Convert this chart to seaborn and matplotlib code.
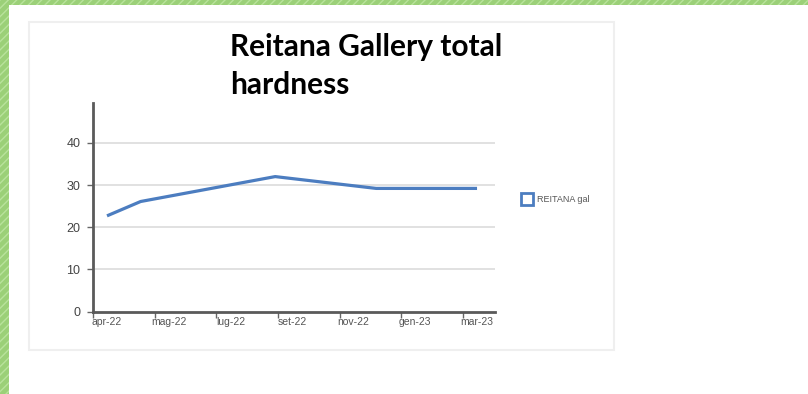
import matplotlib
matplotlib.use("Agg")
import matplotlib.pyplot as plt
from matplotlib.patches import Rectangle
from matplotlib.lines import Line2D
import seaborn as sns
import pandas as pd
import numpy as np

# ---- data ----
months = [0, 1, 5, 8, 11]          # months since apr-22
hardness = [22.7, 26.1, 32.0, 29.2, 29.2]
tick_labels = ["apr-22", "mag-22", "lug-22", "set-22", "nov-22", "gen-23", "mar-23"]
y_ticks = [0, 10, 20, 30, 40]
series_name = "REITANA gal"
title = "Reitana Gallery total\nhardness"

df = pd.DataFrame({"month": months, "hardness": hardness})

sns.set_style("white")
plt.rcParams["font.family"] = ["Liberation Sans", "DejaVu Sans"]

W, H = 808, 394
fig = plt.figure(figsize=(W / 100, H / 100), dpi=100)
fig.patch.set_facecolor("white")

def fx(px):
    return px / W

def fy(py):
    return 1 - py / H

# green textured border (left and top)
for (x0, y0, x1, y1) in [(0, 0, 9, H), (0, 0, W, 5)]:
    fig.patches.append(Rectangle((fx(x0), fy(y1)), fx(x1) - fx(x0), fy(y0) - fy(y1),
                                 transform=fig.transFigure, facecolor="#9bd078",
                                 edgecolor="#b8e39c", hatch="////", lw=0, zorder=-2))

# chart frame
fig.patches.append(Rectangle((fx(29), fy(350)), fx(614) - fx(29), fy(22) - fy(350),
                             transform=fig.transFigure, facecolor="white",
                             edgecolor="#efefef", lw=1.5, zorder=-2))

ax = fig.add_axes([fx(93), fy(311.7), fx(495) - fx(93), fy(102.7) - fy(311.7)])
ax.set_facecolor("none")
ax.set_zorder(2)

color = "#4c7dc0"
sns.lineplot(data=df, x="month", y="hardness", ax=ax, color=color, lw=2.3,
             legend=False, solid_capstyle="butt", zorder=3)

px_per_month = 33.64
ax.set_xlim(-14 / px_per_month, 388 / px_per_month)
ax.set_ylim(0, 49.5)

label_pos = np.linspace(months[0], months[-1], len(tick_labels))
tick_pos = label_pos - 14 / px_per_month
ax.set_xticks(tick_pos)
ax.set_xticklabels([])
ax.set_xticks(label_pos, minor=True)
ax.set_xticklabels(tick_labels, minor=True, fontsize=7.5, color="#555555")
ax.tick_params(axis="x", which="major", length=4, width=1, color="#666666", direction="out", bottom=True)
ax.tick_params(axis="x", which="minor", length=0, pad=4)

ax.set_yticks(y_ticks)
ax.set_yticklabels([str(v) for v in y_ticks], fontsize=9, color="#444444")
ax.tick_params(axis="y", length=4, width=1, color="#666666", direction="out", left=True, pad=5)

for v in y_ticks[1:]:
    ax.axhline(v, color="#dcdcdc", lw=1.2, zorder=0)

for s in ["top", "right"]:
    ax.spines[s].set_visible(False)
for s in ["left", "bottom"]:
    ax.spines[s].set_color("#5a5a5a")
    ax.spines[s].set_linewidth(2)
ax.set_xlabel("")
ax.set_ylabel("")

handle = Line2D([], [], marker="s", ls="none", mfc="white", mec=color, mew=2, ms=8)
ax.legend([handle], [series_name], loc="center left",
          bbox_to_anchor=(fx(513), fy(200)), bbox_transform=fig.transFigure,
          frameon=False, fontsize=6.5, handletextpad=0.2, borderpad=0,
          labelcolor="#555555")

fig.text(fx(230), fy(33), title, ha="left", va="top", fontsize=21.5,
         fontweight="bold", family=["Lato", "DejaVu Sans"], color="black",
         linespacing=1.45, zorder=5)

fig.savefig("out.png", dpi=100, facecolor="white")
